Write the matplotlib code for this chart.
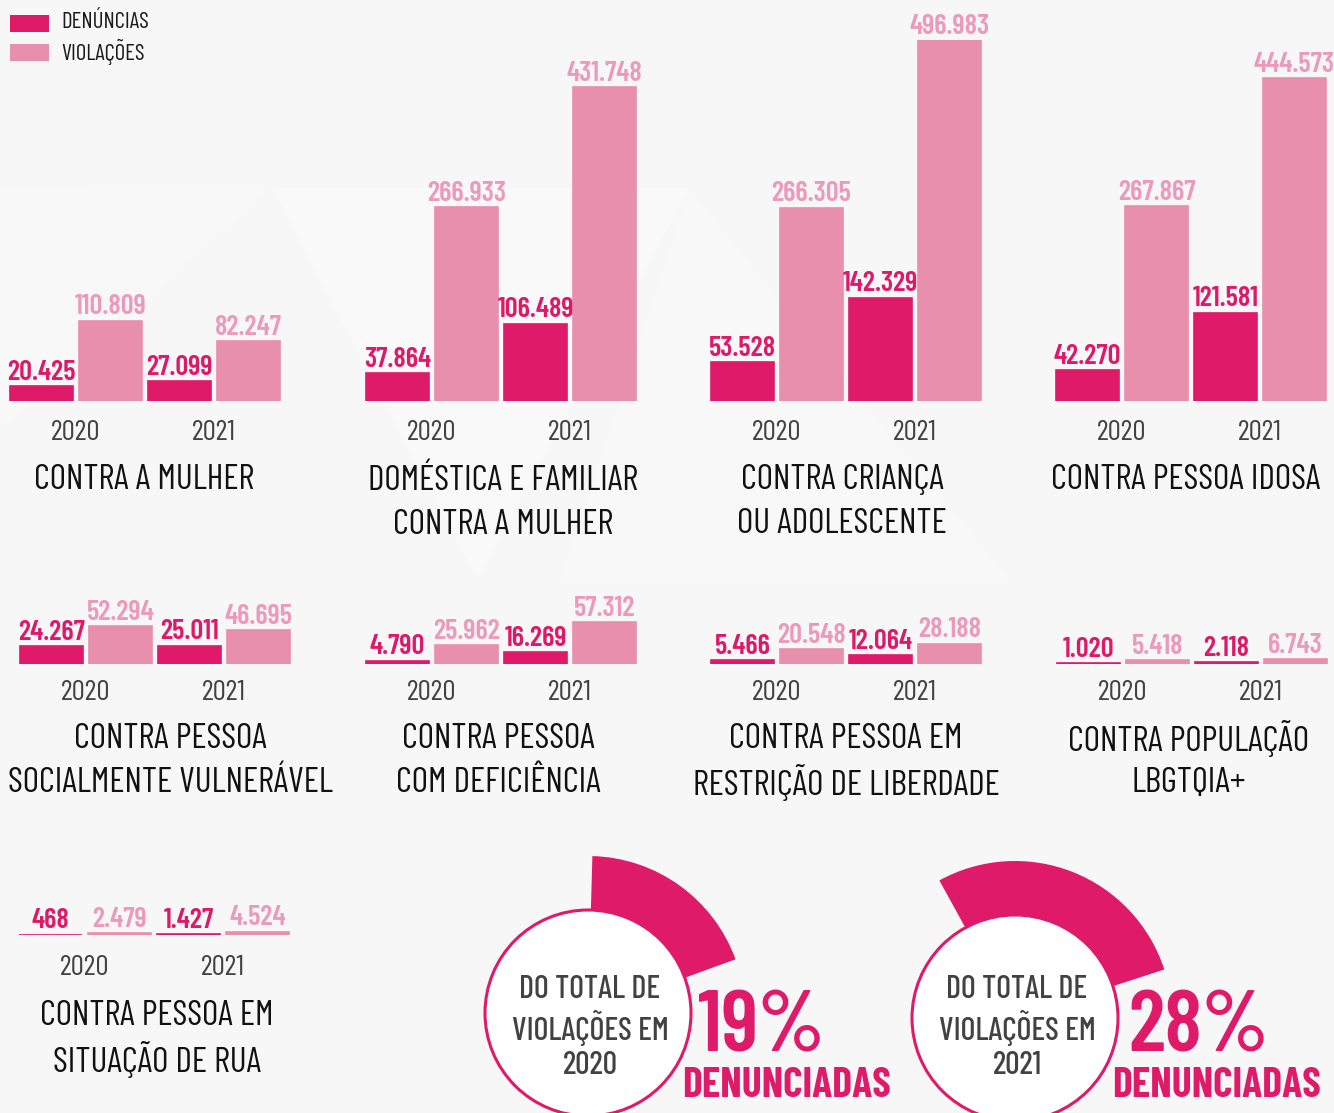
import matplotlib
matplotlib.use("Agg")
import matplotlib.pyplot as plt
from matplotlib.patches import Rectangle, Circle, Wedge, Polygon

plt.rcParams['font.family'] = ['Barlow Condensed', 'Open Sans', 'DejaVu Sans']

# --- data -------------------------------------------------------------
groups = [
    ["CONTRA A MULHER"],
    ["DOMÉSTICA E FAMILIAR", "CONTRA A MULHER"],
    ["CONTRA CRIANÇA", "OU ADOLESCENTE"],
    ["CONTRA PESSOA IDOSA"],
    ["CONTRA PESSOA", "SOCIALMENTE VULNERÁVEL"],
    ["CONTRA PESSOA", "COM DEFICIÊNCIA"],
    ["CONTRA PESSOA EM", "RESTRIÇÃO DE LIBERDADE"],
    ["CONTRA POPULAÇÃO", "LBGTQIA+"],
    ["CONTRA PESSOA EM", "SITUAÇÃO DE RUA"],
]
den_2020 = [20425, 37864, 53528, 42270, 24267, 4790, 5466, 1020, 468]
viol_2020 = [110809, 266933, 266305, 267867, 52294, 25962, 20548, 5418, 2479]
den_2021 = [27099, 106489, 142329, 121581, 25011, 16269, 12064, 2118, 1427]
viol_2021 = [82247, 431748, 496983, 444573, 46695, 57312, 28188, 6743, 4524]
years = ["2020", "2021"]
pct_labels = ["DO TOTAL DE\nVIOLAÇÕES EM\n2020", "DO TOTAL DE\nVIOLAÇÕES EM\n2021"]
pct_denounced = [19, 28]

# --- style ------------------------------------------------------------
W, H = 1334, 1113
BG = "#f7f7f7"
C_DEN = "#de1a69"
C_VIOL = "#e78fad"
C_DEN_TXT = "#dd1a68"
C_VIOL_TXT = "#eb9bb9"
C_YEAR = "#424242"
C_TITLE = "#111111"

# panel placement in pixels: (left of first bar, baseline y, title centre x, title y)
panels = [
    (10, 401, 144, 480), (366, 401, 503, 481), (711, 401, 842, 480), (1056, 401, 1186, 480),
    (20, 664, 170, 739), (366, 664, 498, 739), (711, 664, 846, 739), (1057, 664, 1189, 739),
    (19, 935, 157, 1016),
]
year_drop = {401: 32, 664: 29, 935: 33}
BAR_STEP = 69
BAR_W = 63
YMAX = max(viol_2021)
AX_H = 361  # pixels used by the tallest bar


def fmt(v):
    return f"{v:,}".replace(",", ".")


fig = plt.figure(figsize=(W / 100, H / 100), dpi=100, facecolor=BG)

# background canvas in pixel units
bg = fig.add_axes([0, 0, 1, 1], zorder=0)
bg.set_xlim(0, W)
bg.set_ylim(0, H)
bg.axis("off")
bg.set_facecolor(BG)

# faint geometric shapes behind the charts
for pts, col in [
    ([(272, H - 188), (690, H - 188), (477, H - 580)], "#f9f9f9"),
    ([(690, H - 190), (1010, H - 580), (560, H - 580)], "#f8f8f8"),
    ([(0, H - 185), (272, H - 188), (0, H - 430)], "#f8f8f8"),
]:
    bg.add_patch(Polygon(pts, closed=True, facecolor=col, edgecolor="none"))

# legend
for i, (lab, col) in enumerate([("DENÚNCIAS", C_DEN), ("VIOLAÇÕES", C_VIOL)]):
    yc = H - (23 + 29 * i)
    bg.add_patch(Rectangle((10, yc - 8.5), 39, 17, facecolor=col, edgecolor="none"))
    bg.text(61, yc, lab, fontsize=16.5, color="#1a1a1a", va="center", ha="left")

# bar panels
for k, (left, base, tx, ty) in enumerate(panels):
    ax = fig.add_axes([(left - 3) / W, (H - base) / H, BAR_STEP * 4 / W, AX_H / H], zorder=2)
    ax.set_xlim(-0.5, 3.5)
    ax.set_ylim(0, YMAX)
    ax.axis("off")
    ax.patch.set_alpha(0)

    vals = [den_2020[k], viol_2020[k], den_2021[k], viol_2021[k]]
    cols = [C_DEN, C_VIOL, C_DEN, C_VIOL]
    tcols = [C_DEN_TXT, C_VIOL_TXT, C_DEN_TXT, C_VIOL_TXT]
    w = BAR_W / BAR_STEP
    ax.bar(range(4), vals, width=w, color=cols, edgecolor=cols, linewidth=1.2)
    for i, v in enumerate(vals):
        ax.annotate(fmt(v), xy=(i, v), xytext=(0, 1), textcoords="offset points",
                    ha="center", va="bottom", fontsize=20.5, fontweight="semibold",
                    color=tcols[i], annotation_clip=False)
    for j, yr in enumerate(years):
        ax.annotate(yr, xy=(0.5 + 2 * j, 0), xytext=(0, -year_drop[base] * 0.72),
                    textcoords="offset points", ha="center", va="center",
                    fontsize=21, color=C_YEAR, annotation_clip=False)

    for n, line in enumerate(groups[k]):
        bg.text(tx, H - (ty + 44 * n), line, fontsize=25.5, color=C_TITLE,
                ha="center", va="center")

# share of violations that were reported: ring sector starts near 20 degrees
rings = [(588, 1013, 698, 786), (1015, 1018, 1128, 1217)]
starts = [20.0, 18.0]
for (cx, cy_px, px, dx), pct, txt, a0 in zip(rings, pct_denounced, pct_labels, starts):
    cy = H - cy_px
    span = 360 * pct / 100
    bg.add_patch(Wedge((cx, cy), 157, a0, a0 + span, width=55,
                       facecolor=C_DEN, edgecolor="none", zorder=2))
    bg.add_patch(Circle((cx, cy), 103, facecolor="white", edgecolor=C_DEN,
                        linewidth=2.2, zorder=3))
    for n, line in enumerate(txt.split("\n")):
        bg.text(cx + 2, H - (990 + 37.5 * n), line, fontsize=23, fontweight="medium",
                color=C_YEAR, ha="center", va="center", zorder=4)
    bg.text(px, H - 1030, f"{pct}%", fontsize=62, fontweight="semibold", color=C_DEN,
            ha="left", va="center", zorder=4)
    bg.text(dx, H - 1086, "DENUNCIADAS", fontsize=30, fontweight="bold", color=C_DEN,
            ha="center", va="center", zorder=4)

fig.savefig("out.png", dpi=100, facecolor=BG)
